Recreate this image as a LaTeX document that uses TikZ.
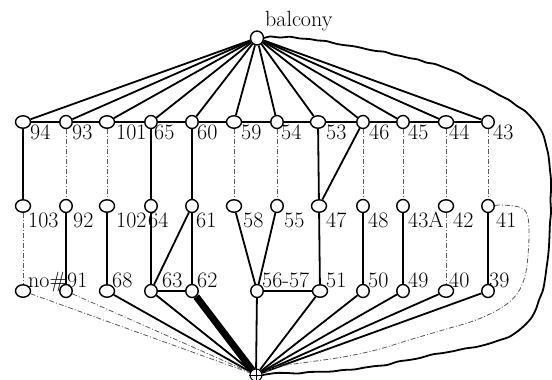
\documentclass[tikz,border=0pt]{standalone}
\usetikzlibrary{shapes.geometric}
\pgfdeclarelayer{bg}
\pgfsetlayers{bg,main}
\begin{document}
\begin{tikzpicture}[x=1pt,y=-1pt,
  vtx/.style={ellipse,draw,line width=1.4pt,fill=white,inner sep=0pt,
              minimum width=12.5pt,minimum height=13pt},
  wvtx/.style={vtx,minimum width=15pt,minimum height=12.5pt},
  lbl/.style={anchor=base west,inner sep=0pt,font=\fontsize{22}{26}\selectfont},
  link/.style={line width=1.8pt},
  heavylink/.style={line width=7pt},
  dashlink/.style={line width=0.8pt,black!65,
                   dash pattern=on 5pt off 2pt on 1pt off 2pt},
]
\useasboundingbox (0,0) rectangle (552,380);

% top and bottom hubs
\node[vtx,minimum width=13pt,minimum height=14pt] (top) at (257,38) {};
\node[lbl] (toplbl) at (265,27) {balcony};
\node[circle,draw,line width=1.1pt,fill=white,inner sep=0pt,minimum size=12pt] (bot) at (256,375) {};
\draw[line width=0.9pt] (bot.north) -- (bot.south) (bot.west) -- (bot.east);

% first row
\node[wvtx] (n94)  at (23,122) {};
\node[vtx]  (n93)  at (66,122) {};
\node[wvtx] (n101) at (107,122) {};
\node[vtx]  (n65)  at (151,122) {};
\node[vtx]  (n60)  at (192,122) {};
\node[wvtx] (n59)  at (234,122) {};
\node[vtx]  (n54)  at (277,122) {};
\node[wvtx] (n53)  at (318,122) {};
\node[vtx]  (n46)  at (363,122) {};
\node[vtx]  (n45)  at (403,122) {};
\node[wvtx] (n44)  at (446,122) {};
\node[vtx]  (n43)  at (488,122) {};

% second row
\node[wvtx] (n103) at (23,206) {};
\node[vtx]  (n92)  at (66,206) {};
\node[wvtx] (n102) at (107,206) {};
\node[vtx]  (n64)  at (151,206) {};
\node[vtx]  (n61)  at (192,206) {};
\node[wvtx] (n58)  at (234,206) {};
\node[vtx]  (n55)  at (277,206) {};
\node[wvtx] (n47)  at (319,206) {};
\node[vtx]  (n48)  at (363,206) {};
\node[vtx]  (n43A) at (403,206) {};
\node[wvtx] (n42)  at (446,206) {};
\node[vtx]  (n41)  at (488,206) {};

% third row
\node[wvtx] (nno)   at (23,291) {};
\node[vtx]  (n91)   at (66,291) {};
\node[wvtx] (n68)   at (107,291) {};
\node[vtx]  (n63)   at (151,291) {};
\node[vtx]  (n62)   at (192,291) {};
\node[vtx]  (n5657) at (257,291) {};
\node[wvtx] (n51)   at (320,291) {};
\node[vtx]  (n50)   at (363,291) {};
\node[vtx]  (n49)   at (403,291) {};
\node[wvtx] (n40)   at (446,291) {};
\node[vtx]  (n39)   at (488,291) {};

% labels
\foreach \x/\t in {30/94,72/93,116/101,154/65,197/60,241/59,281/54,326/53,369/46,408/45,449/44,493/43}
  \node[lbl] (l\t) at (\x,139) {\t};
\foreach \x/\t in {28/103,73/92,116/102,148/64,196/61,243/58,284/55,326/47,368/48,408/43A,453/42,496/41}
  \node[lbl] (l\t) at (\x,227) {\t};
\foreach \x/\t/\n in {28/no\#/no,67/91/91,112/68/68,162/63/63,197/62/62,262/56-57/5657,326/51/51,368/50/50,408/49/49,449/40/40,489/39/39}
  \node[lbl] (m\n) at (\x,287) {\t};

\begin{pgfonlayer}{bg}
  % hub to first row
  \foreach \n in {94,93,101,65,60,59,54,53,46,45,44,43}
    \draw[link] (top) -- (n\n);
  % first row chain
  \draw[link] (n94) -- (n93) -- (n101) -- (n65) -- (n60) -- (n59) -- (n54)
              -- (n53) -- (n46) -- (n45) -- (n44) -- (n43);
  % first to second row
  \foreach \a/\b in {94/103,65/64,60/61,53/47,46/47}
    \draw[link] (n\a) -- (n\b);
  \foreach \a/\b in {93/92,101/102,59/58,54/55,46/48,45/43A,44/42,43/41}
    \draw[dashlink] (n\a) -- (n\b);
  % second to third row
  \foreach \a/\b in {92/91,102/68,64/63,61/63,61/62,58/5657,55/5657,47/51,48/50,43A/49,41/39}
    \draw[link] (n\a) -- (n\b);
  \foreach \a/\b in {103/no,42/40}
    \draw[dashlink] (n\a) -- (n\b);
  \draw[link] (n63) -- (n62);
  \draw[link] (n5657) -- (n51);
  % third row to bottom hub
  \foreach \n in {68,63,5657,51,50,49,40,39}
    \draw[link] (n\n) -- (bot);
  \draw[heavylink] (n62) -- (bot.center);
  \draw[dashlink] (nno) -- (bot);
  \draw[dashlink] (n91) -- (bot);
  % loop from 41 down to the bottom hub
  \draw[dashlink] plot[smooth,tension=0.6] coordinates {(n41.east) (500,205) (519,207)
      (527,214) (529,230) (528,255) (525,276) (517,294) (501,308) (476,320) (443,330)
      (409,340) (376,350) (343,357) (309,362) (276,367) (bot.east)};
  % hand-drawn outer curve from balcony to the bottom hub
  \draw[link] plot[smooth,tension=0.5] coordinates {(top.east) (270,36.5) (280,37.5)
      (290,36.8) (300,38.5) (309,39) (318,40.5) (326,41) (335,43.5) (343,45) (352,46)
      (360,47.5) (368,49.5) (376,51) (385,51.8) (393,54.5) (401,56) (409,58) (418,59.5)
      (426,62.5) (435,64) (443,67) (452,70.5) (460,74) (468,79) (476,83) (485,87)
      (493,91.5) (501,96) (509,100) (517,106) (525,111) (531,117) (537,124) (541,130)
      (544,137) (546,145) (548,153) (549,160) (550,170) (551,180) (551,190) (550.5,200)
      (551,212) (550,223) (549.5,235) (549,246) (548,257) (546.5,268) (545,279)
      (543,290) (539,300) (536,309) (532,317) (526,324) (518,331) (509,337) (500,340)
      (488,344) (476,347) (465,348.5) (454,351) (443,353) (432,354.5) (420,358)
      (409,360) (398,361.5) (387,365) (376,366) (365,367.5) (354,369.5) (343,370)
      (332,371.5) (320,371.8) (309,372) (298,373.5) (287,373) (276,373) (bot.east)};
\end{pgfonlayer}
\end{tikzpicture}
\end{document}
